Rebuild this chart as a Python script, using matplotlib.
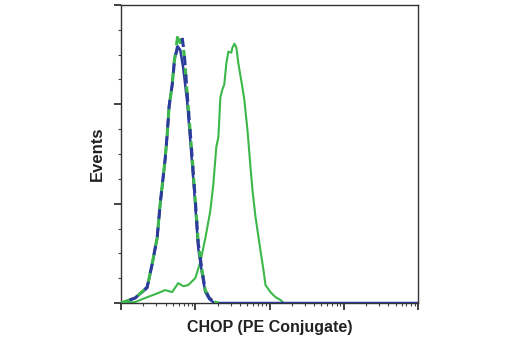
import matplotlib
matplotlib.use("Agg")
import matplotlib.pyplot as plt
from matplotlib.ticker import FixedLocator, LogLocator, NullFormatter

# fluorescence intensity (log scale) and event counts
blue_x = [1, 1.55, 2.25, 2.62, 3.07, 3.37, 3.93, 4.19, 4.45, 4.89, 5.2, 5.71,
          6.27, 6.88, 7.8, 8.56, 9.1, 10, 10.98, 12.44, 13.65, 15.45, 18.1, 10000]
blue_y = [0, 5, 15, 38, 65, 99, 144, 169, 199, 219, 243, 258,
          255, 237, 202, 164, 139, 99, 55, 28, 11, 4, 0, 0]

iso_x = [1, 1.55, 2.25, 2.62, 3.07, 3.37, 3.93, 4.19, 4.45, 4.89, 5.2, 5.54,
         5.89, 6.27, 6.67, 7.1, 7.8, 8.56, 9.1, 10, 10.98, 12.44, 13.65,
         15.45, 18.1, 20.5]
iso_green_y = [0, 5, 16, 39, 66, 100, 145, 170, 198, 220, 242, 258,
               272, 262, 265, 250, 210, 172, 146, 104, 60, 31, 13, 5, 1, 0]
iso_blue_y = [0, 5, 16, 39, 66, 100, 145, 170, 198, 220, 240, 252,
              258, 260, 267, 252, 210, 172, 146, 104, 60, 31, 13, 5, 1, 0]

green_x = [1, 1.55, 2.11, 3.16, 3.93, 4.89, 5.89, 6.88, 8.04, 10, 11.7,
           13.65, 15.9, 17.5, 18.6, 19.2, 20.5, 21.8, 23.2, 24.6, 26.2, 27.9,
           30.6, 31.6, 33.7, 35.8, 38.1, 43.2, 45.9, 50.5, 55.4, 58.9, 64.7,
           75.5, 83, 88.3, 103, 120, 141, 155]
green_y = [0, 1, 5, 10, 13, 11, 20, 17, 18, 25, 41,
           65, 92, 119, 144, 157, 167, 207, 215, 220, 241, 253,
           252, 257, 261, 257, 241, 217, 204, 174, 137, 114, 87,
           53, 33, 18, 11, 6, 3, 0]

BLUE = "#2b3c9b"
GREEN = "#3cb84a"

fig = plt.figure(figsize=(5.2, 3.5), dpi=100)
ax = fig.add_axes([121 / 520, 1 - 303 / 350, (418 - 121) / 520, (303 - 5) / 350])

ax.plot(green_x, green_y, color=GREEN, lw=1.5, zorder=2)
ax.plot(blue_x, blue_y, color=BLUE, lw=1.8, zorder=3)
ax.plot(iso_x, iso_green_y, color=GREEN, lw=2.2, linestyle=(0, (3, 3)), zorder=4)
ax.plot(iso_x, iso_blue_y, color=BLUE, lw=2.2, linestyle=(3, (3, 3)), zorder=5)

ax.set_xscale("log")
ax.set_xlim(1, 1e4)
ax.set_ylim(0, 300)

ax.xaxis.set_major_locator(LogLocator(base=10, numticks=10))
ax.xaxis.set_minor_locator(LogLocator(base=10, subs=range(2, 10), numticks=50))
ax.xaxis.set_major_formatter(NullFormatter())
ax.xaxis.set_minor_formatter(NullFormatter())
ax.yaxis.set_major_locator(FixedLocator([0, 100, 200, 300]))
ax.yaxis.set_minor_locator(FixedLocator([25, 50, 75, 125, 150, 175, 225, 250, 275]))
ax.yaxis.set_major_formatter(NullFormatter())

ax.tick_params(axis="both", which="major", direction="out", length=5, width=1.2, color="#222222")
ax.tick_params(axis="both", which="minor", direction="out", length=2.5, width=0.8, color="#444444")
ax.tick_params(top=False, right=False, which="both")

for s in ax.spines.values():
    s.set_color("#333333")
    s.set_linewidth(1.0)

fam = ["Liberation Sans", "DejaVu Sans"]
ax.set_xlabel("CHOP (PE Conjugate)", fontsize=11.5, fontweight="bold", family=fam,
              color="#222222", labelpad=4)
ax.set_ylabel("Events", fontsize=12, fontweight="bold", family=fam,
              color="#222222", labelpad=3)

fig.savefig("out.png", dpi=100)
